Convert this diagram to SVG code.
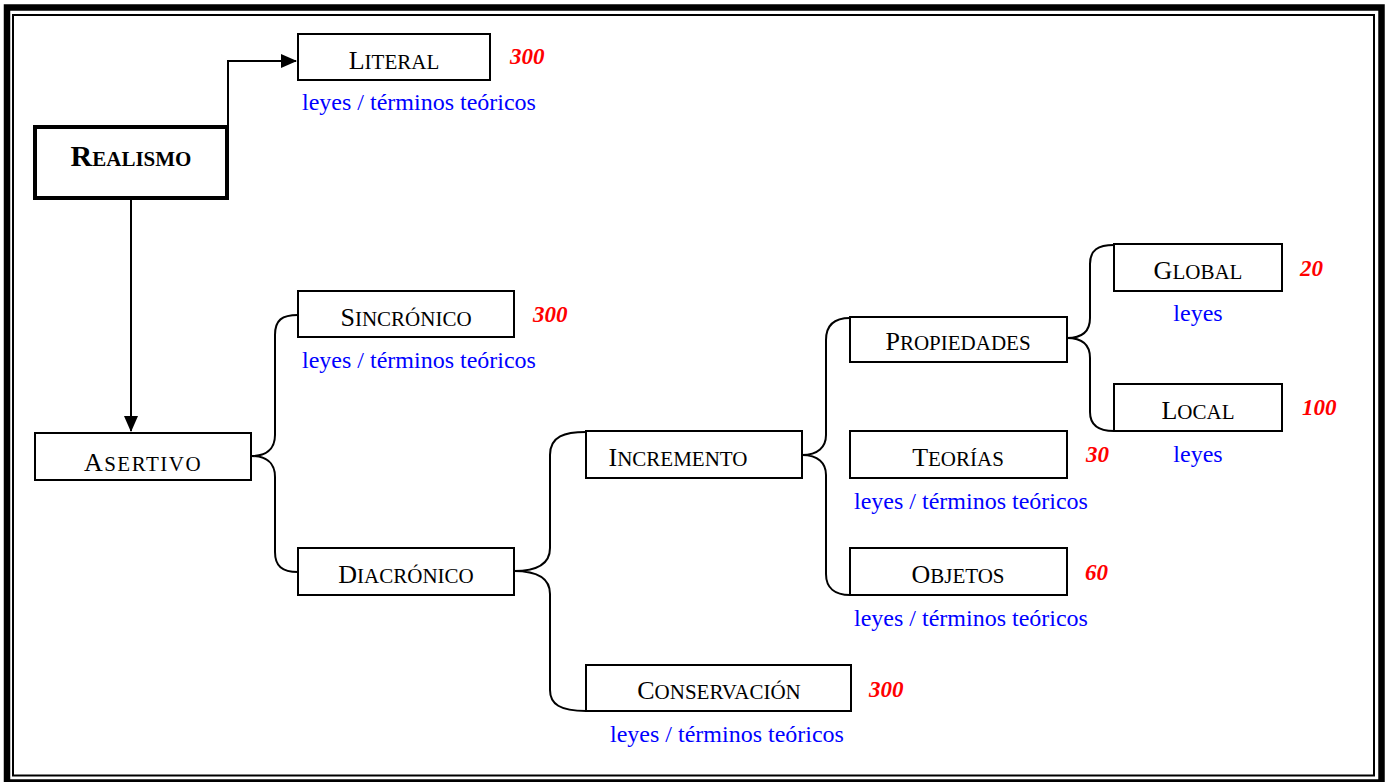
<svg xmlns="http://www.w3.org/2000/svg" width="1390" height="782" viewBox="0 0 1390 782">
<style>
.box{fill:#fff;stroke:#000;stroke-width:2}
.lbl{font-family:"Liberation Serif","Times New Roman",serif;font-size:21px;fill:#000;text-anchor:middle}
.big{font-size:26px}
.blue{font-family:"Liberation Serif","Times New Roman",serif;font-size:24px;fill:#0000ff}
.num{font-family:"Liberation Serif","Times New Roman",serif;font-size:23px;font-weight:bold;font-style:italic;fill:#ff0000}
.conn{fill:none;stroke:#000;stroke-width:2}
</style>
<defs>
<marker id="arrL" markerWidth="16" markerHeight="16" refX="15" refY="8" orient="auto" markerUnits="userSpaceOnUse" viewBox="0 0 16 16">
<path d="M0,1 L16,8 L0,15 z" fill="#000"/>
</marker>
</defs>
<rect x="0" y="0" width="1390" height="782" fill="#fff"/>
<rect x="7" y="7.5" width="1374.5" height="775" fill="none" stroke="#000" stroke-width="6.5"/>
<rect x="13" y="15" width="1361" height="760.5" fill="none" stroke="#000" stroke-width="2"/>

<g id="connectors">
<path class="conn" d="M228,127 V61 H296" marker-end="url(#arrL)"/>
<path class="conn" d="M131,198 V431" marker-end="url(#arrL)"/>
<path class="conn" d="M298,315 C282,315 275,320 275,335 V435 C275,450 265,456 251,456 C265,456 275,462 275,477 V552 C275,566 282,572 298,572"/>
<path class="conn" d="M586,432 C565,432 550,436 550,455 V548 C550,562 540,571 514,571 C540,571 550,580 550,594 V690 C550,704 560,711 586,711"/>
<path class="conn" d="M850,318 C835,318 826,324 826,340 V435 C826,447 818,455 802,455 C818,455 826,463 826,475 V574 C826,588 835,595 850,595"/>
<path class="conn" d="M1114,245 C1098,245 1090,250 1090,264 V318 C1090,332 1082,338 1067,338 C1082,338 1090,344 1090,358 V412 C1090,425 1098,431 1114,431"/>
</g>

<g id="realismo">
<rect x="35" y="127" width="192" height="71" fill="#fff" stroke="#000" stroke-width="4"/>
<text class="lbl" x="131" y="166" font-weight="bold" font-size="24.5px"><tspan font-size="30px">R</tspan>EALISMO</text>
</g>

<g id="literal">
<rect class="box" x="298" y="34" width="192" height="46"/>
<text class="lbl" x="394" y="69"><tspan class="big">L</tspan>ITERAL</text>
<text class="num" x="510" y="64">300</text>
<text class="blue" x="302" y="110">leyes / términos teóricos</text>
</g>

<g id="asertivo">
<rect class="box" x="35" y="433" width="216" height="47"/>
<text class="lbl" x="143" y="471" letter-spacing="1.5"><tspan class="big">A</tspan>SERTIVO</text>
</g>

<g id="sincronico">
<rect class="box" x="298" y="291" width="216" height="46"/>
<text class="lbl" x="406" y="326"><tspan class="big">S</tspan>INCRÓNICO</text>
<text class="num" x="533" y="322">300</text>
<text class="blue" x="302" y="368">leyes / términos teóricos</text>
</g>

<g id="diacronico">
<rect class="box" x="298" y="548" width="216" height="47"/>
<text class="lbl" x="406" y="583"><tspan class="big">D</tspan>IACRÓNICO</text>
</g>

<g id="incremento">
<rect class="box" x="586" y="431" width="216" height="47"/>
<text class="lbl" x="678" y="466"><tspan class="big">I</tspan>NCREMENTO</text>
</g>

<g id="conservacion">
<rect class="box" x="586" y="665" width="265" height="46"/>
<text class="lbl" x="719" y="699"><tspan class="big">C</tspan>ONSERVACIÓN</text>
<text class="num" x="869" y="697">300</text>
<text class="blue" x="610" y="742">leyes / términos teóricos</text>
</g>

<g id="propiedades">
<rect class="box" x="850" y="317" width="217" height="45"/>
<text class="lbl" x="958" y="350"><tspan class="big">P</tspan>ROPIEDADES</text>
</g>

<g id="teorias">
<rect class="box" x="850" y="431" width="217" height="47"/>
<text class="lbl" x="958" y="466"><tspan class="big">T</tspan>EORÍAS</text>
<text class="num" x="1086" y="462">30</text>
<text class="blue" x="854" y="509">leyes / términos teóricos</text>
</g>

<g id="objetos">
<rect class="box" x="850" y="548" width="217" height="47"/>
<text class="lbl" x="958" y="583"><tspan class="big">O</tspan>BJETOS</text>
<text class="num" x="1085" y="580">60</text>
<text class="blue" x="854" y="626">leyes / términos teóricos</text>
</g>

<g id="global">
<rect class="box" x="1114" y="244" width="168" height="47"/>
<text class="lbl" x="1198" y="279"><tspan class="big">G</tspan>LOBAL</text>
<text class="num" x="1300" y="276">20</text>
<text class="blue" x="1198" y="321" text-anchor="middle">leyes</text>
</g>

<g id="local">
<rect class="box" x="1114" y="384" width="168" height="47"/>
<text class="lbl" x="1198" y="419"><tspan class="big">L</tspan>OCAL</text>
<text class="num" x="1302" y="415">100</text>
<text class="blue" x="1198" y="462" text-anchor="middle">leyes</text>
</g>
</svg>
